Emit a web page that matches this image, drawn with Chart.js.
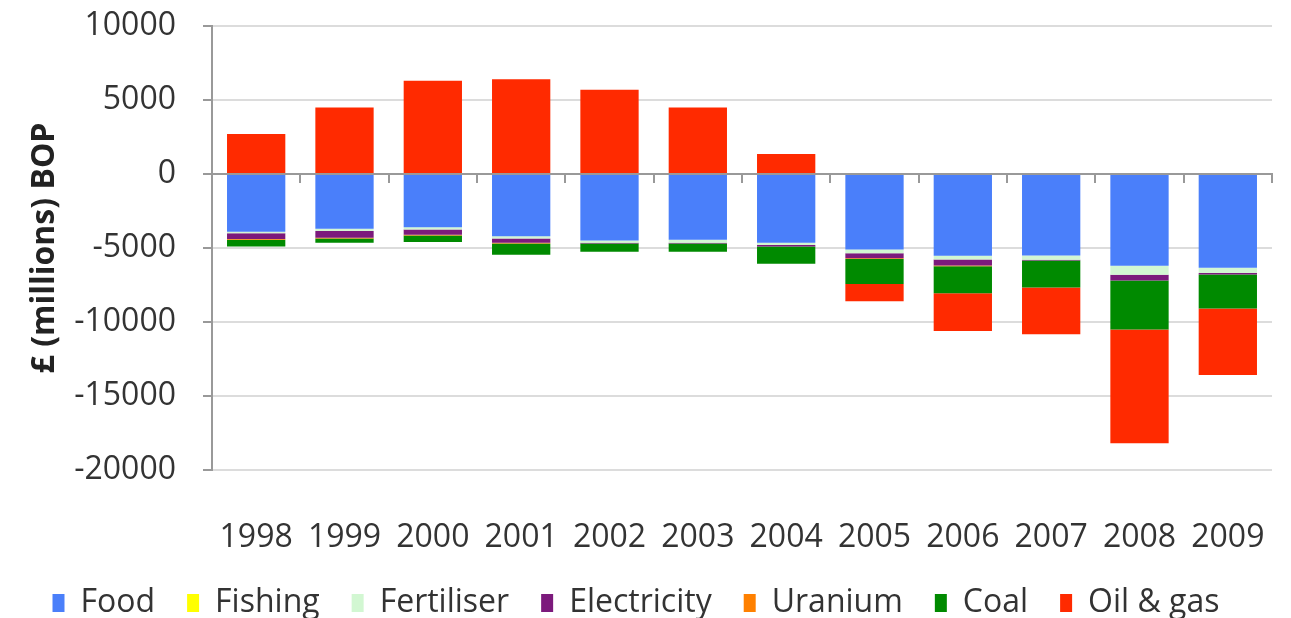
<!DOCTYPE html>
<html>
<head>
<meta charset="utf-8">
<script src="https://cdn.jsdelivr.net/npm/chart.js@4"></script>
<style>
  html, body { margin: 0; padding: 0; background: #fff; }
  #wrap { width: 1291px; height: 618px; }
</style>
</head>
<body>
<div id="wrap"><canvas id="bopChart"></canvas></div>
<script>
// years on the x axis
const years = ["1998", "1999", "2000", "2001", "2002", "2003", "2004", "2005", "2006", "2007", "2008", "2009"];

// balance of payments by sector, £ millions
const food = [-3900, -3700, -3600, -4200, -4500, -4450, -4650, -5100, -5530, -5500, -6200, -6340];
const fishing = [0, 0, 0, 0, 0, 0, 0, 0, 0, 0, 0, 0];
const fertiliser = [-100, -150, -150, -150, -150, -200, -150, -250, -250, -300, -600, -350];
const electricity = [-400, -450, -350, -300, -50, -50, -100, -350, -400, -50, -400, -100];
const uranium = [-50, -50, -50, -50, 0, 0, 0, -50, -50, 0, 0, 0];
const coal = [-450, -300, -450, -760, -560, -560, -1170, -1690, -1820, -1820, -3300, -2290];
const oilGas = [2700, 4500, 6300, 6400, 5700, 4500, 1350, -1150, -2550, -3150, -7700, -4500];

// y axis range
const yMin = -20000;
const yMax = 10000;
const yStep = 5000;

const fontFamily = "'Open Sans', sans-serif";

function series(label, data, color) {
  return {
    label: label,
    data: data,
    backgroundColor: color,
    borderWidth: 0,
    barPercentage: 0.66,
    categoryPercentage: 1,
  };
}

// keep chart.js from adding its own room for the edge labels
function noEdgePadding(scale) {
  scale.paddingTop = 0;
  scale.paddingBottom = 0;
  scale.paddingLeft = 0;
  scale.paddingRight = 0;
}

document.addEventListener("DOMContentLoaded", function () {
  const ctx = document.getElementById("bopChart");

  const data = {
    labels: years,
    datasets: [
      series("Food", food, "#4a7ffa"),
      series("Fishing", fishing, "#ffff00"),
      series("Fertiliser", fertiliser, "#d2f7d2"),
      series("Electricity", electricity, "#7c1a7c"),
      series("Uranium", uranium, "#ff8000"),
      series("Coal", coal, "#008a00"),
      series("Oil & gas", oilGas, "#ff2a00"),
    ],
  };

  const config = {
    type: "bar",
    data: data,
    options: {
      responsive: true,
      maintainAspectRatio: false,
      animation: false,
      layout: {
        padding: { top: 26, right: 19, bottom: -11, left: 0 },
      },
      plugins: {
        legend: {
          position: "bottom",
          labels: {
            boxWidth: 12,
            boxHeight: 18,
            padding: 32,
            color: "#333",
            font: { family: fontFamily, size: 32 },
          },
        },
        tooltip: { enabled: false },
      },
      scales: {
        x: {
          stacked: true,
          grid: { display: false, drawTicks: false },
          border: { display: false },
          ticks: {
            color: "#333",
            padding: 49,
            font: { family: fontFamily, size: 32 },
          },
          afterFit: function (scale) {
            noEdgePadding(scale);
            scale.height = 85;
          },
        },
        // zero line with tick marks between the years
        xZero: {
          type: "category",
          axis: "x",
          position: { y: 0 },
          grid: {
            offset: true,
            drawOnChartArea: false,
            tickLength: 8,
            color: "#999",
            lineWidth: 2,
          },
          border: { color: "#999", width: 2 },
          ticks: { display: false },
          afterFit: noEdgePadding,
        },
        y: {
          stacked: true,
          min: yMin,
          max: yMax,
          ticks: {
            stepSize: yStep,
            color: "#333",
            padding: 27,
            font: { family: fontFamily, size: 32 },
            callback: (value) => String(value),
          },
          grid: {
            color: (c) => (c.tick && c.tick.value === 0 ? "#999" : "#dcdcdc"),
            tickColor: "#999",
            tickLength: 9,
            lineWidth: 2,
          },
          border: { color: "#999", width: 2 },
          title: {
            display: true,
            text: "£ (millions) BOP",
            color: "#222",
            padding: { top: 26, bottom: 0 },
            font: { family: fontFamily, size: 32, weight: "bold" },
          },
          afterFit: function (scale) {
            noEdgePadding(scale);
            scale.width = 212;
          },
        },
      },
    },
  };

  new Chart(ctx, config);
});
</script>
</body>
</html>
